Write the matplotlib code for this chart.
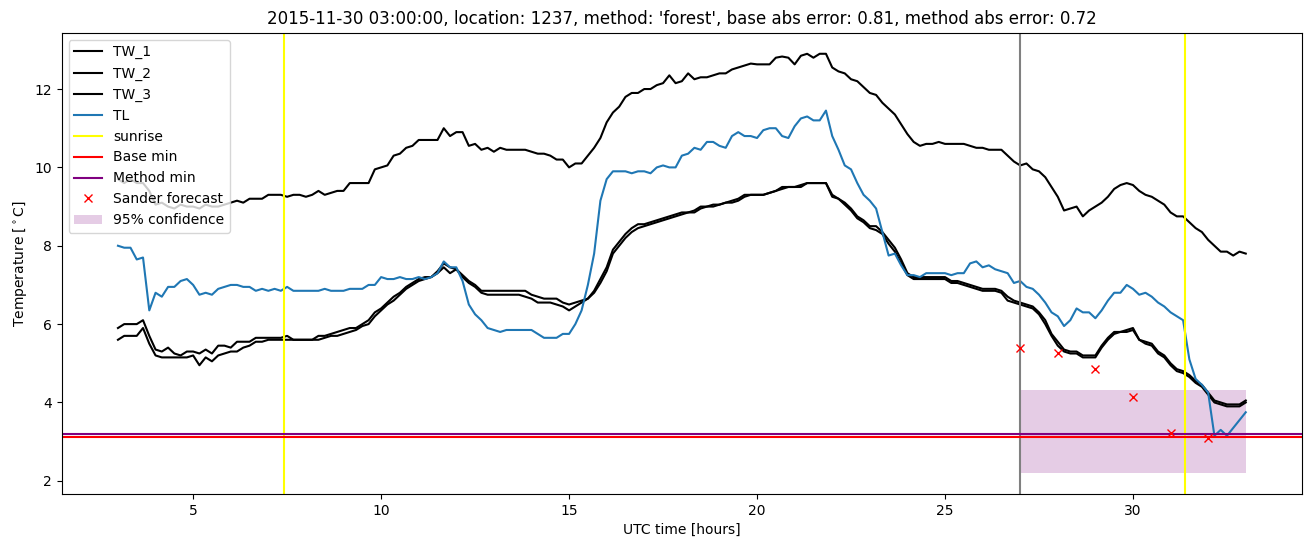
import numpy as np
import matplotlib
matplotlib.use("Agg")
import matplotlib.pyplot as plt

# time axis: 10 minute steps from 03:00 to 33:00 (hours after midnight UTC)
hours = np.arange(3, 33 + 1e-9, 1 / 6)

# road / air temperatures, one row per hour (6 values, 10 min apart)
tw_1 = [
    9.7, 9.6, 9.7, 9.6, 9.6, 9.4,
    9.05, 9.1, 9.0, 8.95, 9.05, 9.0,
    9.0, 8.95, 9.05, 9.0, 9.0, 9.05,
    9.1, 9.15, 9.1, 9.2, 9.2, 9.2,
    9.3, 9.3, 9.3, 9.25, 9.3, 9.3,
    9.25, 9.3, 9.4, 9.3, 9.35, 9.4,
    9.4, 9.6, 9.6, 9.6, 9.6, 9.95,
    10.0, 10.05, 10.3, 10.35, 10.5, 10.55,
    10.7, 10.7, 10.7, 10.7, 11.0, 10.8,
    10.9, 10.9, 10.55, 10.6, 10.45, 10.5,
    10.4, 10.5, 10.45, 10.45, 10.45, 10.45,
    10.4, 10.35, 10.35, 10.3, 10.2, 10.2,
    10.0, 10.1, 10.1, 10.3, 10.5, 10.75,
    11.15, 11.4, 11.55, 11.8, 11.9, 11.9,
    12.0, 12.0, 12.1, 12.15, 12.35, 12.15,
    12.2, 12.4, 12.25, 12.3, 12.3, 12.35,
    12.4, 12.4, 12.5, 12.55, 12.6, 12.65,
    12.63, 12.63, 12.63, 12.8, 12.83, 12.8,
    12.63, 12.85, 12.9, 12.8, 12.9, 12.9,
    12.55, 12.45, 12.4, 12.25, 12.2, 12.05,
    11.9, 11.85, 11.65, 11.5, 11.35, 11.1,
    10.85, 10.65, 10.55, 10.6, 10.6, 10.65,
    10.6, 10.6, 10.6, 10.6, 10.55, 10.5,
    10.5, 10.45, 10.45, 10.45, 10.3, 10.15,
    10.05, 10.1, 9.95, 9.9, 9.75, 9.5,
    9.25, 8.9, 8.95, 9.0, 8.75, 8.9,
    9.0, 9.1, 9.25, 9.45, 9.55, 9.6,
    9.55, 9.4, 9.3, 9.25, 9.15, 9.05,
    8.85, 8.75, 8.75, 8.6, 8.45, 8.35,
    8.15, 8.0, 7.85, 7.85, 7.75, 7.85,
    7.8,
]

tw_2 = [
    5.9, 6.0, 6.0, 6.0, 6.1, 5.7,
    5.35, 5.3, 5.4, 5.25, 5.2, 5.3,
    5.3, 5.25, 5.35, 5.25, 5.45, 5.45,
    5.4, 5.55, 5.55, 5.55, 5.65, 5.65,
    5.65, 5.65, 5.65, 5.7, 5.6, 5.6,
    5.6, 5.6, 5.7, 5.7, 5.75, 5.8,
    5.85, 5.9, 5.9, 6.0, 6.1, 6.3,
    6.4, 6.55, 6.7, 6.8, 6.95, 7.05,
    7.15, 7.2, 7.2, 7.35, 7.55, 7.45,
    7.4, 7.25, 7.1, 7.0, 6.85, 6.85,
    6.85, 6.85, 6.85, 6.85, 6.85, 6.85,
    6.75, 6.7, 6.65, 6.65, 6.65, 6.55,
    6.5, 6.55, 6.6, 6.65, 6.85, 7.15,
    7.45, 7.9, 8.1, 8.3, 8.45, 8.55,
    8.55, 8.6, 8.65, 8.7, 8.75, 8.8,
    8.85, 8.85, 8.9, 9.0, 9.0, 9.05,
    9.05, 9.1, 9.15, 9.2, 9.3, 9.3,
    9.3, 9.3, 9.35, 9.4, 9.5, 9.5,
    9.5, 9.55, 9.6, 9.6, 9.6, 9.6,
    9.3, 9.2, 9.1, 8.95, 8.75, 8.65,
    8.5, 8.5, 8.35, 8.15, 7.95, 7.65,
    7.3, 7.2, 7.2, 7.2, 7.2, 7.2,
    7.2, 7.1, 7.1, 7.05, 7.0, 6.95,
    6.9, 6.9, 6.9, 6.85, 6.7, 6.6,
    6.55, 6.5, 6.45, 6.3, 6.1, 5.75,
    5.55, 5.35, 5.3, 5.3, 5.2, 5.2,
    5.2, 5.45, 5.65, 5.8, 5.8, 5.85,
    5.9, 5.6, 5.55, 5.5, 5.3, 5.2,
    5.0, 4.85, 4.8, 4.7, 4.55, 4.45,
    4.25, 4.05, 4.0, 3.95, 3.95, 3.95,
    4.05,
]

tw_3 = [
    5.6, 5.7, 5.7, 5.7, 5.9, 5.5,
    5.2, 5.15, 5.15, 5.15, 5.15, 5.15,
    5.2, 4.95, 5.15, 5.05, 5.2, 5.25,
    5.3, 5.3, 5.4, 5.45, 5.55, 5.55,
    5.6, 5.6, 5.6, 5.6, 5.6, 5.6,
    5.6, 5.6, 5.6, 5.65, 5.7, 5.7,
    5.75, 5.8, 5.85, 5.95, 6.0, 6.2,
    6.35, 6.5, 6.6, 6.75, 6.9, 7.0,
    7.1, 7.15, 7.2, 7.3, 7.45, 7.3,
    7.4, 7.2, 7.05, 6.95, 6.8, 6.75,
    6.75, 6.75, 6.75, 6.75, 6.75, 6.7,
    6.65, 6.55, 6.55, 6.55, 6.5, 6.45,
    6.35, 6.45, 6.55, 6.65, 6.8, 7.05,
    7.35, 7.8, 8.0, 8.2, 8.35, 8.45,
    8.5, 8.55, 8.6, 8.65, 8.7, 8.75,
    8.8, 8.85, 8.85, 8.95, 9.0, 9.0,
    9.05, 9.1, 9.1, 9.15, 9.25, 9.3,
    9.3, 9.3, 9.35, 9.4, 9.45, 9.5,
    9.5, 9.5, 9.6, 9.6, 9.6, 9.6,
    9.25, 9.2, 9.05, 8.9, 8.7, 8.6,
    8.45, 8.4, 8.3, 8.05, 7.85, 7.55,
    7.25, 7.15, 7.15, 7.15, 7.15, 7.15,
    7.15, 7.05, 7.05, 7.0, 6.95, 6.9,
    6.85, 6.85, 6.85, 6.8, 6.6, 6.55,
    6.5, 6.45, 6.4, 6.25, 6.0, 5.7,
    5.45, 5.3, 5.25, 5.25, 5.15, 5.15,
    5.15, 5.4, 5.6, 5.75, 5.8, 5.8,
    5.85, 5.6, 5.5, 5.45, 5.25, 5.15,
    4.95, 4.8, 4.75, 4.65, 4.5, 4.4,
    4.2, 4.0, 3.95, 3.9, 3.9, 3.9,
    4.0,
]

tl = [
    8.0, 7.95, 7.95, 7.65, 7.7, 6.35,
    6.8, 6.7, 6.95, 6.95, 7.1, 7.15,
    7.0, 6.75, 6.8, 6.75, 6.9, 6.95,
    7.0, 7.0, 6.95, 6.95, 6.85, 6.9,
    6.85, 6.9, 6.85, 6.95, 6.85, 6.85,
    6.85, 6.85, 6.85, 6.9, 6.85, 6.85,
    6.85, 6.9, 6.9, 6.9, 7.0, 7.0,
    7.2, 7.15, 7.15, 7.2, 7.15, 7.15,
    7.2, 7.15, 7.2, 7.3, 7.6, 7.45,
    7.45, 7.1, 6.5, 6.25, 6.1, 5.9,
    5.85, 5.8, 5.85, 5.85, 5.85, 5.85,
    5.85, 5.75, 5.65, 5.65, 5.65, 5.75,
    5.75, 6.0, 6.35, 7.0, 7.8, 9.15,
    9.7, 9.9, 9.9, 9.9, 9.85, 9.9,
    9.9, 9.85, 10.0, 10.05, 10.0, 10.0,
    10.3, 10.35, 10.5, 10.45, 10.65, 10.65,
    10.55, 10.5, 10.8, 10.9, 10.8, 10.8,
    10.75, 10.95, 11.0, 11.0, 10.8, 10.75,
    11.05, 11.25, 11.3, 11.2, 11.2, 11.45,
    10.8, 10.45, 10.05, 9.95, 9.6, 9.3,
    9.15, 8.95, 8.35, 7.75, 7.8, 7.5,
    7.25, 7.25, 7.2, 7.3, 7.3, 7.3,
    7.3, 7.25, 7.3, 7.3, 7.55, 7.6,
    7.45, 7.5, 7.4, 7.35, 7.3, 7.05,
    7.1, 6.95, 6.9, 6.75, 6.55, 6.3,
    6.2, 5.95, 6.1, 6.4, 6.3, 6.3,
    6.15, 6.35, 6.6, 6.8, 6.8, 7.0,
    6.9, 6.75, 6.8, 6.7, 6.55, 6.45,
    6.3, 6.2, 6.1, 5.1, 4.6, 4.45,
    4.25, 3.15, 3.3, 3.15, 3.35, 3.55,
    3.75,
]

sunrise = [7.42, 31.38]
forecast_start = 27
base_min = 3.12
method_min = 3.2

sander_hours = [27, 28, 29, 30, 31, 32]
sander_temp = [5.4, 5.25, 4.85, 4.13, 3.22, 3.1]

conf_hours = [27, 33]
conf_low = 2.2
conf_high = 4.32

title = ("2015-11-30 03:00:00, location: 1237, method: 'forest', "
         "base abs error: 0.81, method abs error: 0.72")

fig, ax = plt.subplots(figsize=(13.1, 5.47), dpi=100)
fig.subplots_adjust(left=0.047, right=0.994, top=0.94, bottom=0.097)

ax.plot(hours, tw_1, color="black", label="TW_1")
ax.plot(hours, tw_2, color="black", label="TW_2")
ax.plot(hours, tw_3, color="black", label="TW_3")
ax.plot(hours, tl, label="TL")

for i, s in enumerate(sunrise):
    ax.axvline(s, color="yellow", label="sunrise" if i == 0 else None)
ax.axvline(forecast_start, color="gray")

ax.axhline(base_min, color="red", label="Base min")
ax.axhline(method_min, color="purple", label="Method min")

ax.plot(sander_hours, sander_temp, "x", color="red", label="Sander forecast")
ax.fill_between(conf_hours, conf_low, conf_high, color="purple", alpha=0.2,
                linewidth=0, label="95% confidence")

ax.set_title(title)
ax.set_xlabel("UTC time [hours]")
ax.set_ylabel("Temperature [$^\\circ$C]")
ax.legend(loc="upper left")

plt.savefig("out.png")
